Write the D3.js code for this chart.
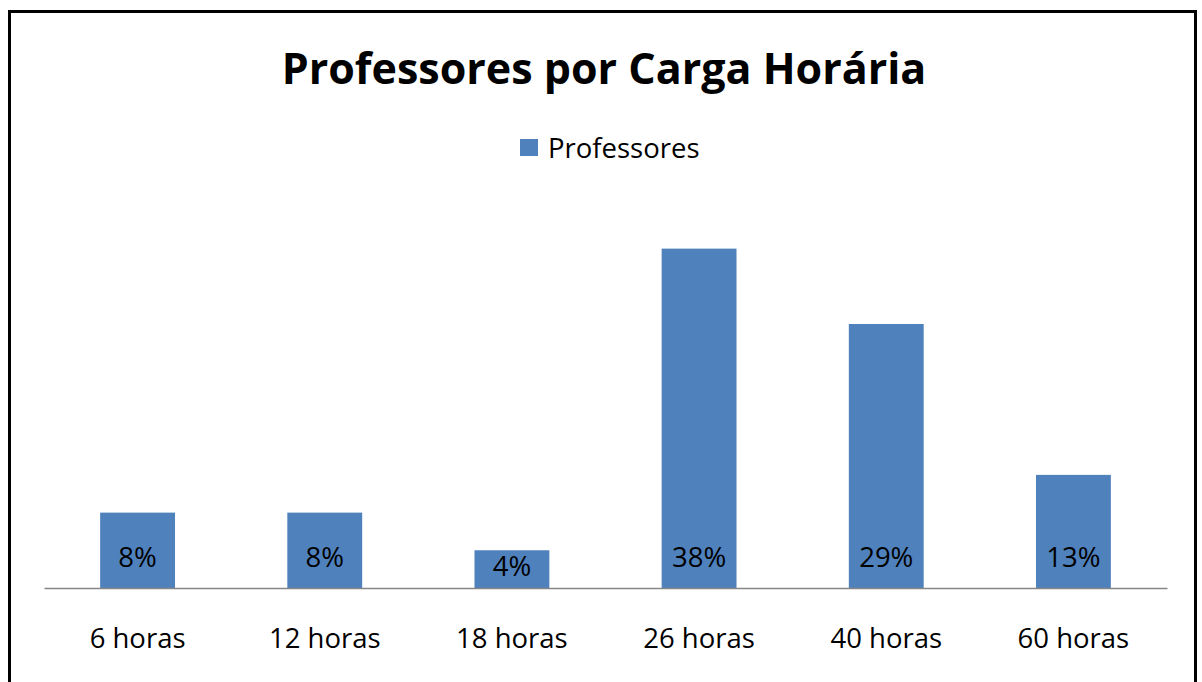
<!DOCTYPE html>
<html>
<head>
<meta charset="utf-8">
<script src="https://cdn.jsdelivr.net/npm/d3@7"></script>
<style>
  html, body { margin: 0; padding: 0; background: #fff; }
  svg { display: block; font-family: "Open Sans", sans-serif; }
</style>
</head>
<body>
<div id="chart"></div>
<script>
// ------- Data -------
const categories = ["6 horas", "12 horas", "18 horas", "26 horas", "40 horas", "60 horas"];
const percentValues = [8.33, 8.33, 4.17, 37.5, 29.17, 12.5]; // share of professors (%)
const seriesName = "Professores";
const chartTitle = "Professores por Carga Horária";

// ------- Layout -------
const width = 1202;
const height = 682;
const plot = { left: 44, right: 1167, top: 226, bottom: 588 };
const barColor = "#4f81bd";

const svg = d3
  .select("#chart")
  .append("svg")
  .attr("width", width)
  .attr("height", height);

// outer frame
svg
  .append("rect")
  .attr("x", 9.5)
  .attr("y", 11.5)
  .attr("width", 1186)
  .attr("height", 700)
  .attr("fill", "none")
  .attr("stroke", "#000")
  .attr("stroke-width", 3);

// title
svg
  .append("text")
  .attr("x", 604)
  .attr("y", 84)
  .attr("text-anchor", "middle")
  .attr("font-size", 43)
  .attr("font-weight", "bold")
  .attr("fill", "#000")
  .text(chartTitle);

// legend
const legend = svg.append("g").attr("transform", "translate(520,139)");
legend
  .append("rect")
  .attr("width", 18)
  .attr("height", 17)
  .attr("fill", barColor);
legend
  .append("text")
  .attr("x", 28)
  .attr("y", 9)
  .attr("dy", "0.35em")
  .attr("font-size", 27.5)
  .attr("fill", "#000")
  .text(seriesName);

// ------- Scales -------
const x = d3
  .scaleBand()
  .domain(categories)
  .range([plot.left, plot.right])
  .paddingInner(0.6)
  .paddingOuter(0.3);

const y = d3
  .scaleLinear()
  .domain([0, 40])
  .range([plot.bottom, plot.top]);

// ------- Bars -------
const data = categories.map((c, i) => ({ key: c, value: percentValues[i] }));

svg
  .append("g")
  .selectAll("rect.bar")
  .data(data)
  .join("rect")
  .attr("class", "bar")
  .attr("x", (d) => x(d.key))
  .attr("y", (d) => y(d.value))
  .attr("width", x.bandwidth())
  .attr("height", (d) => y(0) - y(d.value))
  .attr("fill", barColor);

// data labels, inside base
svg
  .append("g")
  .selectAll("text")
  .data(data)
  .join("text")
  .attr("x", (d) => x(d.key) + x.bandwidth() / 2)
  .attr("y", (d) => Math.max(y(0) - 31, y(d.value) + 16))
  .attr("dy", "0.35em")
  .attr("text-anchor", "middle")
  .attr("font-size", 27.5)
  .attr("fill", "#000")
  .text((d) => Math.round(d.value) + "%");

// ------- X axis -------
const xAxis = d3.axisBottom(x).tickSize(0).tickPadding(0).tickSizeOuter(0);

const xAxisG = svg
  .append("g")
  .attr("transform", `translate(0,${plot.bottom})`)
  .call(xAxis);

xAxisG.select(".domain").attr("stroke", "#868686").attr("stroke-width", 1.5);
xAxisG
  .selectAll(".tick text")
  .attr("y", 50)
  .attr("dy", "0.35em")
  .attr("font-size", 27.5)
  .attr("font-family", "Open Sans, sans-serif")
  .attr("fill", "#000");
</script>
</body>
</html>
